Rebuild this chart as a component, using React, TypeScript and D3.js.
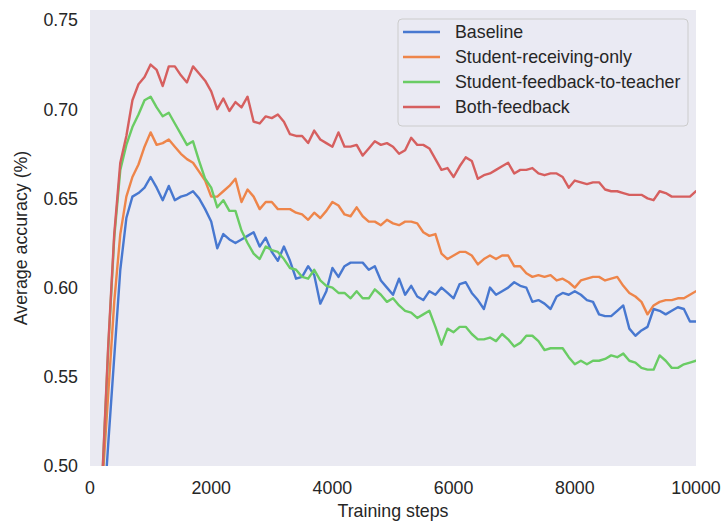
import React from "react";
import * as d3 from "d3";

const steps: number[] = d3.range(200, 10001, 100);

const seriesNames = ["Baseline", "Student-receiving-only", "Student-feedback-to-teacher", "Both-feedback"];
const seriesColors = ["#4878D0", "#EE854A", "#6ACC64", "#D65F5F"];

const baseline = [
  0.460, 0.512, 0.561, 0.610, 0.639, 0.651, 0.653, 0.656, 0.662, 0.656,
  0.649, 0.657, 0.649, 0.651, 0.652, 0.654, 0.650, 0.644, 0.637, 0.622,
  0.630, 0.627, 0.625, 0.627, 0.629, 0.631, 0.623, 0.628, 0.620, 0.615,
  0.623, 0.615, 0.605, 0.606, 0.612, 0.607, 0.591, 0.598, 0.611, 0.606,
  0.612, 0.614, 0.614, 0.614, 0.610, 0.612, 0.604, 0.600, 0.596, 0.605,
  0.596, 0.601, 0.595, 0.593, 0.598, 0.596, 0.600, 0.597, 0.594, 0.602,
  0.603, 0.597, 0.593, 0.588, 0.600, 0.596, 0.598, 0.600, 0.603, 0.601,
  0.600, 0.592, 0.593, 0.591, 0.588, 0.595, 0.597, 0.596, 0.598, 0.596,
  0.593, 0.592, 0.585, 0.584, 0.584, 0.587, 0.590, 0.577, 0.573, 0.576,
  0.578, 0.588, 0.587, 0.585, 0.587, 0.589, 0.588, 0.581, 0.581,
];

const receivingOnly = [
  0.488, 0.540, 0.592, 0.630, 0.651, 0.662, 0.669, 0.679, 0.687, 0.680,
  0.681, 0.683, 0.679, 0.675, 0.672, 0.670, 0.665, 0.660, 0.651, 0.651,
  0.654, 0.657, 0.661, 0.648, 0.655, 0.651, 0.644, 0.648, 0.648, 0.644,
  0.644, 0.644, 0.642, 0.641, 0.638, 0.642, 0.639, 0.643, 0.648, 0.646,
  0.641, 0.640, 0.645, 0.640, 0.637, 0.637, 0.635, 0.638, 0.636, 0.635,
  0.637, 0.637, 0.636, 0.631, 0.629, 0.630, 0.619, 0.616, 0.618, 0.620,
  0.620, 0.618, 0.613, 0.616, 0.618, 0.616, 0.618, 0.618, 0.612, 0.612,
  0.608, 0.606, 0.607, 0.606, 0.607, 0.604, 0.605, 0.603, 0.600, 0.604,
  0.605, 0.606, 0.606, 0.604, 0.605, 0.606, 0.601, 0.597, 0.595, 0.592,
  0.585, 0.590, 0.592, 0.593, 0.593, 0.594, 0.594, 0.596, 0.598,
];

const feedbackToTeacher = [
  0.490, 0.565, 0.628, 0.666, 0.680, 0.690, 0.697, 0.705, 0.707, 0.701,
  0.696, 0.698, 0.692, 0.686, 0.680, 0.682, 0.671, 0.661, 0.656, 0.645,
  0.649, 0.643, 0.643, 0.632, 0.625, 0.619, 0.616, 0.623, 0.621, 0.620,
  0.616, 0.611, 0.610, 0.606, 0.605, 0.610, 0.604, 0.601, 0.600, 0.597,
  0.597, 0.594, 0.598, 0.594, 0.594, 0.599, 0.596, 0.592, 0.594, 0.590,
  0.587, 0.586, 0.583, 0.585, 0.587, 0.578, 0.568, 0.577, 0.575, 0.578,
  0.578, 0.574, 0.571, 0.571, 0.572, 0.570, 0.574, 0.571, 0.567, 0.569,
  0.573, 0.573, 0.570, 0.565, 0.566, 0.566, 0.566, 0.561, 0.557, 0.559,
  0.557, 0.559, 0.559, 0.560, 0.562, 0.561, 0.563, 0.559, 0.558, 0.555,
  0.554, 0.554, 0.562, 0.559, 0.555, 0.555, 0.557, 0.558, 0.559,
];

const bothFeedback = [
  0.491, 0.567, 0.630, 0.670, 0.685, 0.705, 0.714, 0.718, 0.725, 0.722,
  0.713, 0.724, 0.724, 0.719, 0.715, 0.724, 0.720, 0.716, 0.710, 0.700,
  0.706, 0.699, 0.704, 0.701, 0.707, 0.693, 0.692, 0.696, 0.695, 0.697,
  0.693, 0.686, 0.685, 0.685, 0.681, 0.688, 0.683, 0.681, 0.679, 0.687,
  0.679, 0.679, 0.680, 0.674, 0.678, 0.682, 0.680, 0.681, 0.679, 0.675,
  0.677, 0.684, 0.680, 0.680, 0.678, 0.672, 0.666, 0.667, 0.662, 0.668,
  0.673, 0.671, 0.661, 0.663, 0.664, 0.666, 0.668, 0.670, 0.664, 0.666,
  0.666, 0.667, 0.664, 0.663, 0.664, 0.664, 0.662, 0.656, 0.660, 0.659,
  0.658, 0.659, 0.659, 0.655, 0.654, 0.654, 0.653, 0.652, 0.652, 0.652,
  0.650, 0.649, 0.654, 0.653, 0.651, 0.651, 0.651, 0.651, 0.654,
];

const allSeries = [baseline, receivingOnly, feedbackToTeacher, bothFeedback];

const xTicks = [0, 2000, 4000, 6000, 8000, 10000];
const yTicks = [0.5, 0.55, 0.6, 0.65, 0.7, 0.75];

const W = 722;
const H = 523;
const L = 90, R = 696, T = 10, B = 466;
const FONT = "'Liberation Sans', Arial, Helvetica, sans-serif";
const TXT = "#262626";
const FS = 17.8;

export default function App() {
  const x = d3.scaleLinear().domain([0, 10000]).range([L, R]);
  const yPerUnit = (B - 20) / 0.25;
  const y = d3.scaleLinear().domain([0.5, 0.75 + (20 - T) / yPerUnit]).range([B, T]);
  const line = d3
    .line<number>()
    .x((_, i) => x(steps[i]))
    .y((d) => y(d));

  return (
    <svg
      width={W}
      height={H}
      style={{ position: "absolute", left: 0, top: 0, background: "#ffffff" }}
      fontFamily={FONT}
    >
      <defs>
        <clipPath id="plotclip">
          <rect x={L} y={T} width={R - L} height={B - T} />
        </clipPath>
      </defs>
      <rect x={L} y={T} width={R - L} height={B - T} fill="#EAEAF2" />
      <g clipPath="url(#plotclip)">
        {allSeries.map((s, k) => (
          <path
            key={k}
            d={line(s) || ""}
            fill="none"
            stroke={seriesColors[k]}
            strokeWidth={2.4}
            strokeLinejoin="round"
            strokeLinecap="round"
          />
        ))}
      </g>
      {yTicks.map((t) => (
        <text
          key={"y" + t}
          x={L - 12}
          y={y(t) + 6.3}
          textAnchor="end"
          fontSize={FS}
          fill={TXT}
        >
          {t.toFixed(2)}
        </text>
      ))}
      {xTicks.map((t) => (
        <text
          key={"x" + t}
          x={x(t)}
          y={B + 28}
          textAnchor="middle"
          fontSize={FS}
          fill={TXT}
        >
          {t}
        </text>
      ))}
      <text x={(L + R) / 2} y={517} textAnchor="middle" fontSize={FS} fill={TXT}>
        Training steps
      </text>
      <text
        transform={`translate(27, ${(T + B) / 2}) rotate(-90)`}
        textAnchor="middle"
        fontSize={FS}
        fill={TXT}
      >
        Average accuracy (%)
      </text>
      <g>
        <rect
          x={398}
          y={19}
          width={290}
          height={107}
          rx={4}
          fill="#EAEAF2"
          fillOpacity={0.8}
          stroke="#CCCCCC"
          strokeWidth={1}
        />
        {seriesNames.map((name, k) => {
          const cy = 32 + k * 25;
          return (
            <g key={name}>
              <line x1={403} x2={440} y1={cy} y2={cy} stroke={seriesColors[k]} strokeWidth={2.4} />
              <text x={455} y={cy + 6.3} fontSize={FS} fill={TXT}>
                {name}
              </text>
            </g>
          );
        })}
      </g>
    </svg>
  );
}
